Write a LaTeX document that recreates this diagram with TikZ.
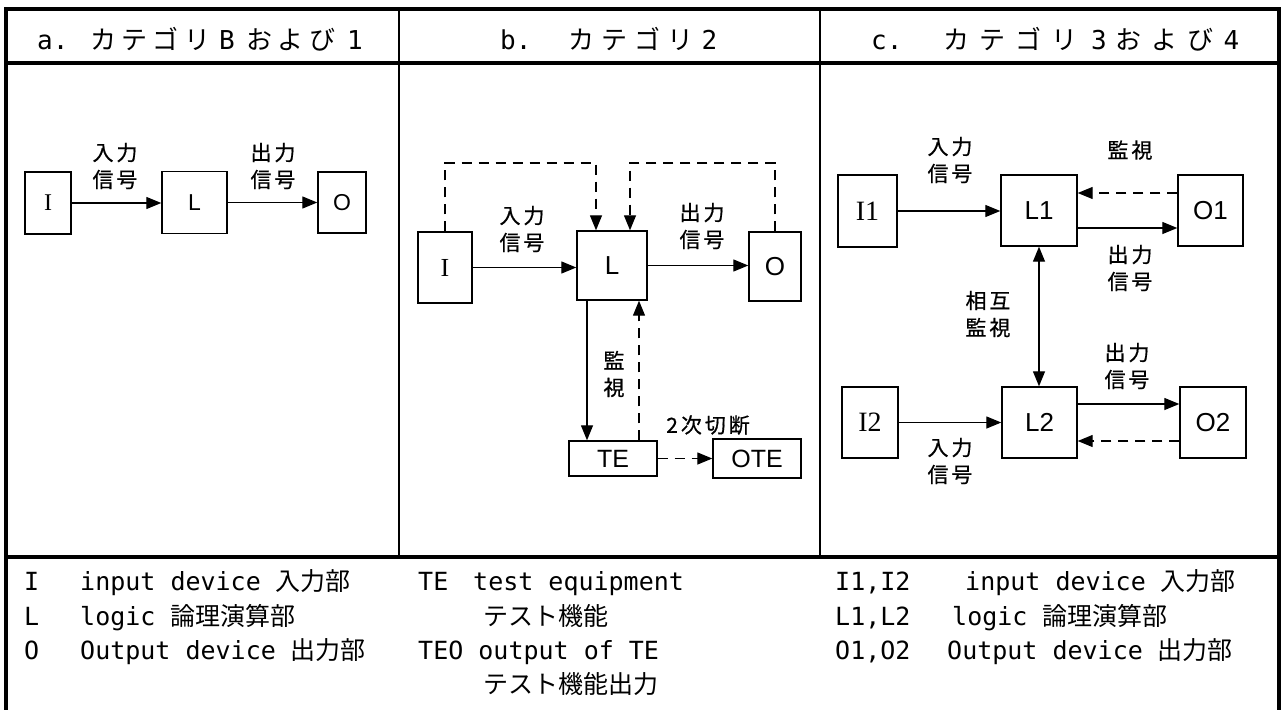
\documentclass[tikz,border=0pt]{standalone}
\usepackage{fontspec}
\setmainfont{Liberation Sans}
\newfontfamily\jp{Noto Sans CJK JP}
\newfontfamily\jpa{Noto Sans CJK JP}[LetterSpace=20]
\newfontfamily\jpb{Noto Sans CJK JP}[LetterSpace=27]
\newfontfamily\jpc{Noto Sans CJK JP}[LetterSpace=38]
\newfontfamily\jplab{Noto Sans CJK JP}[LetterSpace=14,FakeBold=0.6]
\newfontfamily\mono{DejaVu Sans Mono}
\newfontfamily\seriffont{Liberation Serif}
\usetikzlibrary{arrows.meta}
\begin{document}
\begin{tikzpicture}[x=1pt,y=-1pt,
  box/.style 2 args={draw,line width=1.4pt,inner sep=0pt,minimum width=#1,minimum height=#2},
  arr/.style={line width=1.3pt,-{Triangle[length=15pt,width=12pt]}},
  dsharr/.style={arr,dash pattern=on 10pt off 7pt},
  lab/.style={font=\jplab\fontsize{21}{27}\selectfont,align=center,inner sep=0pt},
  hdr/.style={anchor=base west,inner sep=0pt,font=\fontsize{26}{30}\selectfont},
  leg/.style={anchor=base west,inner sep=0pt,font=\mono\fontsize{25}{30}\selectfont},
  thickline/.style={line width=4pt},
  thinline/.style={line width=1.6pt},
  fa/.style={font=\fontsize{23}{23}\selectfont},
  fb/.style={font=\fontsize{26}{26}\selectfont},
  fc/.style={font=\fontsize{26}{26}\selectfont}]
\useasboundingbox (0,0) rectangle (1284,709);
% table frame
\draw[thickline] (6,715) -- (6,9.5) -- (1279,9.5) -- (1279,715);
\draw[thickline] (4,63) -- (1281,63);
\draw[thickline] (4,557) -- (1281,557);
\draw[thinline] (399,9.5) -- (399,557);
\draw[thinline] (820,9.5) -- (820,557);
% headers
\node[hdr] (ha) at (37,50) {{\mono a.}\hspace{22pt}{\jpa カテゴリ}\hspace{9pt}{\mono B}\hspace{12pt}{\jpa および}\hspace{12pt}{\mono 1}};
\node[hdr] (hb) at (500,50) {{\mono b.}\hspace{37pt}{\jpb カテゴリ}\hspace{8pt}{\mono 2}};
\node[hdr] (hc) at (871,50) {{\mono c.}\hspace{41pt}{\jpc カテゴリ}\hspace{14pt}{\mono 3}\hspace{9pt}{\jpc および}\hspace{10pt}{\mono 4}};
% ---- part a
\node[box={46}{62},font=\seriffont\fontsize{24}{24}\selectfont] (Ia) at (48,203) {I};
\node[box={65}{62},fa] (La) at (194.5,202.5) {L};
\node[box={48}{61},fa] (Oa) at (342,202.5) {O};
\draw[arr] (Ia.east) -- (Ia.east -| La.west);
\draw[arr] (La.east) -- (La.east -| Oa.west);
\node[lab] (ta1) at (115,166) {入力\\信号};
\node[lab] (ta2) at (273,166) {出力\\信号};
% ---- part b
\node[box={54}{71},font=\seriffont\fontsize{26}{26}\selectfont] (Ib) at (445,267.5) {I};
\node[box={70}{69},fb] (Lb) at (612,265.5) {L};
\node[box={52}{69},fb] (Ob) at (775,266.5) {O};
\node[box={88}{35},font=\fontsize{25}{25}\selectfont] (TE) at (613,458.5) {TE};
\node[box={88}{39},font=\fontsize{25}{25}\selectfont] (OTE) at (757,458.5) {OTE};
\draw[arr] (Ib.east) -- (Ib.east -| Lb.west);
\draw[arr] (Lb.east) -- (Lb.east -| Ob.west);
\coordinate (t1) at (596,163);
\coordinate (t2) at (630,163);
\draw[dsharr] (Ib.north) |- (t1) -- (t1 |- Lb.north);
\draw[dsharr] (Ob.north) |- (t2) -- (t2 |- Lb.north);
\coordinate (d1) at (587,300);
\coordinate (d2) at (639,300);
\draw[arr] (d1 |- Lb.south) -- (d1 |- TE.north);
\draw[dsharr] (d2 |- TE.north) -- (d2 |- Lb.south);
\draw[dsharr] (TE.east) -- (OTE.west);
\node[lab] (tb1) at (522,229) {入力\\信号};
\node[lab] (tb2) at (702,226) {出力\\信号};
\node[lab] (tb3) at (614,374) {監\\視};
\node[lab] (tb4) at (708,425) {2次切断};
% ---- part c
\node[box={59}{72},font=\seriffont\fontsize{28}{28}\selectfont] (I1) at (867.5,211) {I1};
\node[box={76}{71},fc] (L1) at (1039,210.5) {L1};
\node[box={65}{71},fc] (O1) at (1210.5,210.5) {O1};
\node[box={56}{71},font=\seriffont\fontsize{28}{28}\selectfont] (I2) at (870,422.5) {I2};
\node[box={75}{71},fc] (L2) at (1039.5,422.5) {L2};
\node[box={66}{71},fc] (O2) at (1213,422.5) {O2};
\coordinate (c1) at (1100,193);
\coordinate (c2) at (1100,228);
\coordinate (c3) at (1100,404);
\coordinate (c4) at (1100,441);
\draw[arr] (I1.east) -- (I1.east -| L1.west);
\draw[dsharr] (c1 -| O1.west) -- (c1 -| L1.east);
\draw[arr] (c2 -| L1.east) -- (c2 -| O1.west);
\draw[line width=1.3pt,{Triangle[length=15pt,width=12pt]}-{Triangle[length=15pt,width=12pt]}] (L1.south) -- (L1.south |- L2.north);
\draw[arr] (I2.east) -- (I2.east -| L2.west);
\draw[arr] (c3 -| L2.east) -- (c3 -| O2.west);
\draw[dsharr] (c4 -| O2.west) -- (c4 -| L2.east);
\node[lab] (tc1) at (950,160) {入力\\信号};
\node[lab] (tc2) at (1130,150) {監視};
\node[lab] (tc3) at (1130,268) {出力\\信号};
\node[lab] (tc4) at (988,314) {相互\\監視};
\node[lab] (tc5) at (1127,366) {出力\\信号};
\node[lab] (tc6) at (950,461) {入力\\信号};
% ---- legend
\node[leg] (la1) at (24,590) {I};
\node[leg] (la2) at (80,590) {input device {\jp 入力部}};
\node[leg] (la3) at (24,625) {L};
\node[leg] (la4) at (80,625) {logic {\jp 論理演算部}};
\node[leg] (la5) at (24,659) {O};
\node[leg] (la6) at (80,659) {Output device {\jp 出力部}};
\node[leg] (lb1) at (418,590) {TE};
\node[leg] (lb2) at (473,590) {test equipment};
\node[leg] (lb3) at (483,625) {\jp テスト機能};
\node[leg] (lb4) at (418,659) {TEO output of TE};
\node[leg] (lb5) at (483,693) {\jp テスト機能出力};
\node[leg] (lc1) at (835,590) {I1,I2};
\node[leg] (lc2) at (965,590) {input device {\jp 入力部}};
\node[leg] (lc3) at (835,625) {L1,L2};
\node[leg] (lc4) at (952,625) {logic {\jp 論理演算部}};
\node[leg] (lc5) at (835,659) {O1,O2};
\node[leg] (lc6) at (947,659) {Output device {\jp 出力部}};
\end{tikzpicture}
\end{document}
